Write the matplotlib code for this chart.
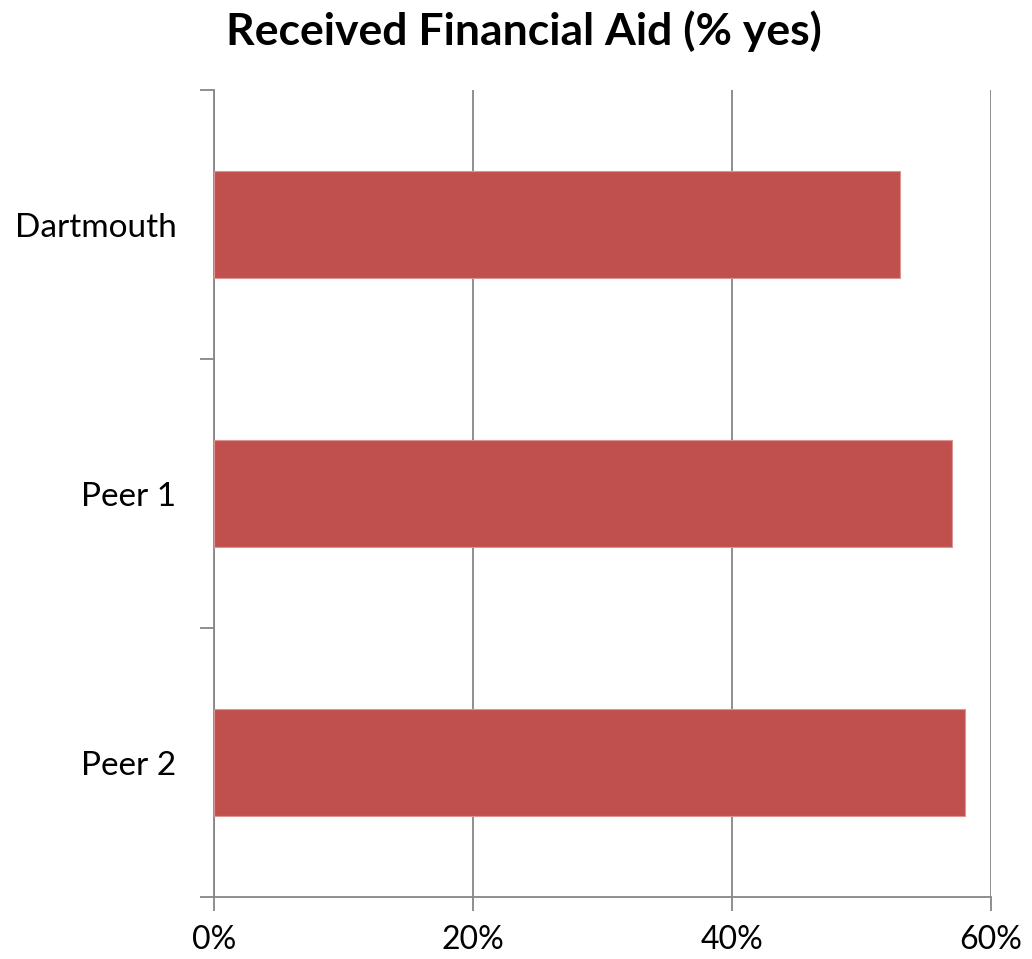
import matplotlib.pyplot as plt
import numpy as np
from matplotlib.ticker import FixedLocator

# data
schools = ['Dartmouth', 'Peer 1', 'Peer 2']
pct_yes = [53, 57, 58]
x_ticks = [0, 20, 40, 60]
x_tick_labels = ['0%', '20%', '40%', '60%']

plt.rcParams['font.family'] = ['Lato', 'DejaVu Sans']

fig = plt.figure(figsize=(10.32, 9.59), dpi=100)
ax = fig.add_axes([214 / 1032, 1 - 897 / 959, (991 - 214) / 1032, (897 - 90) / 959])

y = np.arange(len(schools))
ax.barh(y, pct_yes, height=0.4, color='#C0504D', edgecolor='#D99694', linewidth=0.8, zorder=3)

ax.set_xlim(0, 60)
ax.set_ylim(len(schools) - 0.5, -0.5)

ax.set_xticks(x_ticks)
ax.set_xticklabels(x_tick_labels, fontsize=23)
ax.grid(axis='x', color='#868686', linewidth=1.3, zorder=0)

ax.set_yticks(y)
ax.set_yticklabels(schools, fontsize=24)
# tick marks sit between the categories
ax.yaxis.set_minor_locator(FixedLocator([-0.5, 0.5, 1.5, 2.5]))
ax.tick_params(axis='y', which='major', length=0, pad=27)
ax.tick_params(axis='y', which='minor', length=10, width=1.3, color='#868686', direction='out')
ax.tick_params(axis='x', which='major', length=10, width=1.3, color='#868686', direction='out', pad=10)

for side in ['top', 'right']:
    ax.spines[side].set_visible(False)
for side in ['left', 'bottom']:
    ax.spines[side].set_color('#868686')
    ax.spines[side].set_linewidth(1.3)

fig.text(524 / 1032, 1 - 31 / 959, 'Received Financial Aid (% yes)', fontsize=32,
         fontweight='bold', ha='center', va='center')

plt.savefig('out.png', dpi=100)
